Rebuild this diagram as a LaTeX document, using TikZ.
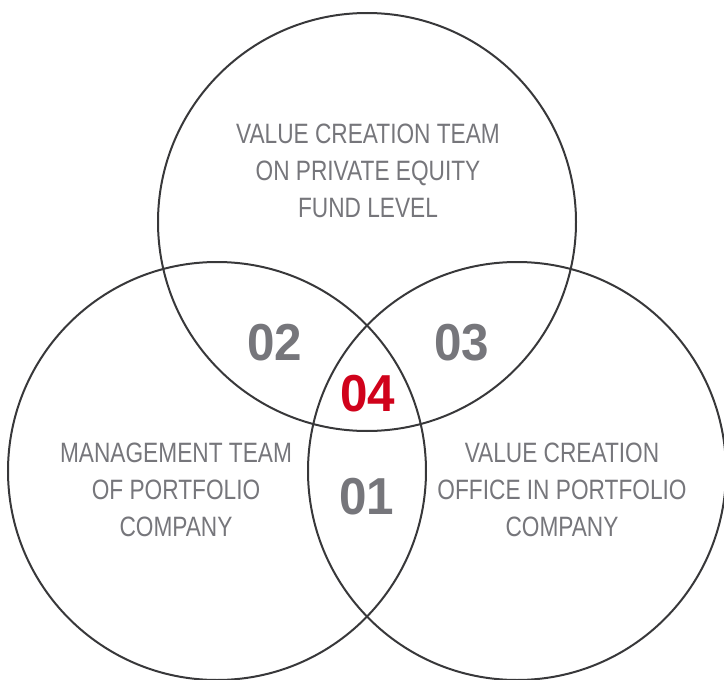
\documentclass[tikz,border=0pt]{standalone}
\usepackage{fontspec}
\setmainfont[FakeStretch=0.81]{Liberation Sans}
\newfontfamily\numfont[FakeStretch=0.95]{Liberation Sans}
\usepackage{xcolor}
\usepackage{tikz}
\usetikzlibrary{positioning}
\definecolor{ringgray}{HTML}{38383A}
\definecolor{labelgray}{HTML}{76767B}
\definecolor{accentred}{HTML}{D0021B}

\begin{document}
\begin{tikzpicture}[x=1pt,y=-1pt]
	\tikzstyle{ring}=[draw=ringgray, line width=2pt, circle, minimum size=418pt, inner sep=0pt]
	\tikzstyle{caption}=[text=labelgray, font=\fontsize{28}{37}\selectfont, align=center]
	\tikzstyle{region}=[text=labelgray, font=\numfont\bfseries\fontsize{52}{52}\selectfont, inner sep=0pt]
	\useasboundingbox (0,0) rectangle (724,680);
	\clip (0,0) rectangle (724,680);
	\node[ring] (fund) at (367,222) {};
	\node[ring] (mgmt) at (217,471) {};
	\node[ring] (office) at (517,471) {};

	\node[caption] (fundtxt) at (368,171) {VALUE CREATION TEAM\\ON PRIVATE EQUITY\\FUND LEVEL};
	\node[caption] (mgmttxt) at (176,490) {MANAGEMENT TEAM\\OF PORTFOLIO\\COMPANY};
	\node[caption] (officetxt) at (562,490) {VALUE CREATION\\OFFICE IN PORTFOLIO\\COMPANY};

	\node[region] (two) at (275,343) {02};
	\node[region] (three) at (462,343) {03};
	\node[region, text=accentred] (four) at (368,394) {04};
	\node[region] (one) at (367,497) {01};
\end{tikzpicture}
\end{document}
